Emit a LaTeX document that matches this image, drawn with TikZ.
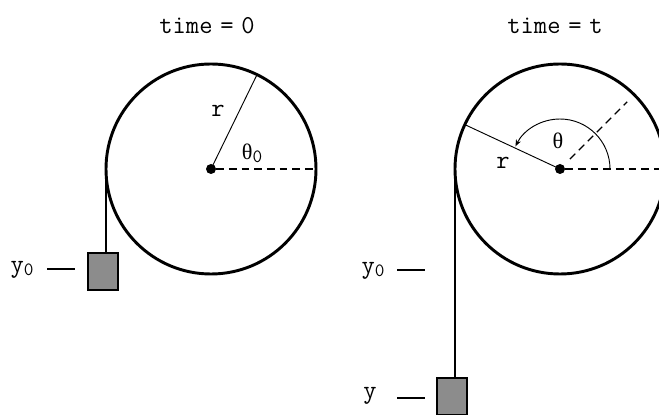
\documentclass[tikz,border=0pt]{standalone}
\usepackage{fontspec}
\newfontfamily\grkfont{Liberation Serif}
\usetikzlibrary{arrows.meta, calc}
\newcommand{\subzero}{\raisebox{-0.3ex}{\fontsize{16}{18}\selectfont 0}}
\newcommand{\thetaup}{{\grkfont\fontsize{19}{22}\selectfont θ}}
\tikzset{
  >={Stealth[length=2mm, width=1.6mm]},
  wheel/.style={draw=black, line width=2.5pt},
  rope/.style={draw=black, line width=1pt},
  spoke/.style={draw=black, line width=0.8pt},
  dashref/.style={draw=black, line width=1pt, dash pattern=on 2.3mm off 1.5mm},
  hub/.style={circle, fill=black, inner sep=0pt, minimum size=3mm},
  mass/.style={rectangle, draw=black, line width=1.3pt, fill=black!45,
               minimum width=0.9cm, minimum height=1.1cm, inner sep=0pt},
  lbl/.style={font=\ttfamily\fontsize{22}{24}\selectfont, inner sep=1pt},
}
\begin{document}
\begin{tikzpicture}[x=0.03cm, y=0.03cm]
  \useasboundingbox (0,0) rectangle (659,415);
  \clip (0,0) rectangle (659,415);
  % time = 0
  \node[lbl] (time0) at (207,389) {time\hspace{0.3em}=\hspace{0.3em}0};
  \coordinate (c0) at (211,246);
  \draw[wheel] (c0) circle (105);
  \coordinate (p0) at ($(c0)+(64:105)$);
  \coordinate (e0) at ($(c0)+(105,0)$);
  \draw[spoke] (c0) -- (p0);
  \node[hub] (h0) at (c0) {};
  \draw[dashref] (h0.east) -- (e0);
  \node[lbl] (r0) at (218,304) {r};
  \node[lbl] (th0) at (252,262) {\thetaup\subzero};
  \coordinate (t0) at ($(c0)+(180:105)$);
  \node[mass] (m0) at (103,143.5) {};
  \draw[rope] (t0) -- (t0 |- m0.north);
  \node[lbl] (y0a) at (22,145) {y\subzero};
  \coordinate (d0a) at (47,146);
  \coordinate (d0b) at (75,146);
  \draw[rope] (d0a) -- (d0b);
  % time = t
  \node[lbl] (time1) at (555,389) {time\hspace{0.3em}=\hspace{0.3em}t};
  \coordinate (c1) at (560,246);
  \draw[wheel] (c1) circle (105);
  \coordinate (p1) at ($(c1)+(155:105)$);
  \coordinate (e1) at ($(c1)+(105,0)$);
  \coordinate (a1) at ($(c1)+(0:50)$);
  \coordinate (q1) at ($(c1)+(45:14)$);
  \coordinate (s1) at ($(c1)+(45:95)$);
  \draw[spoke] (c1) -- (p1);
  \draw[spoke, ->] (a1) arc[start angle=0, end angle=153, radius=50];
  \draw[dashref] (q1) -- (s1);
  \node[hub] (h1) at (c1) {};
  \draw[dashref] (h1.east) -- (e1);
  \node[lbl] (th1) at (558,274) {\thetaup};
  \node[lbl] (r1) at (503,252) {r};
  \coordinate (t1) at ($(c1)+(180:105)$);
  \node[mass] (m1) at (452,18.5) {};
  \draw[rope] (t1) -- (t1 |- m1.north);
  \node[lbl] (y0b) at (373,144) {y\subzero};
  \node[lbl] (y1) at (370,19) {y};
  \foreach \yy in {145,17}{
    \coordinate (da\yy) at (397,\yy);
    \coordinate (db\yy) at (425,\yy);
    \draw[rope] (da\yy) -- (db\yy);
  }
\end{tikzpicture}
\end{document}
